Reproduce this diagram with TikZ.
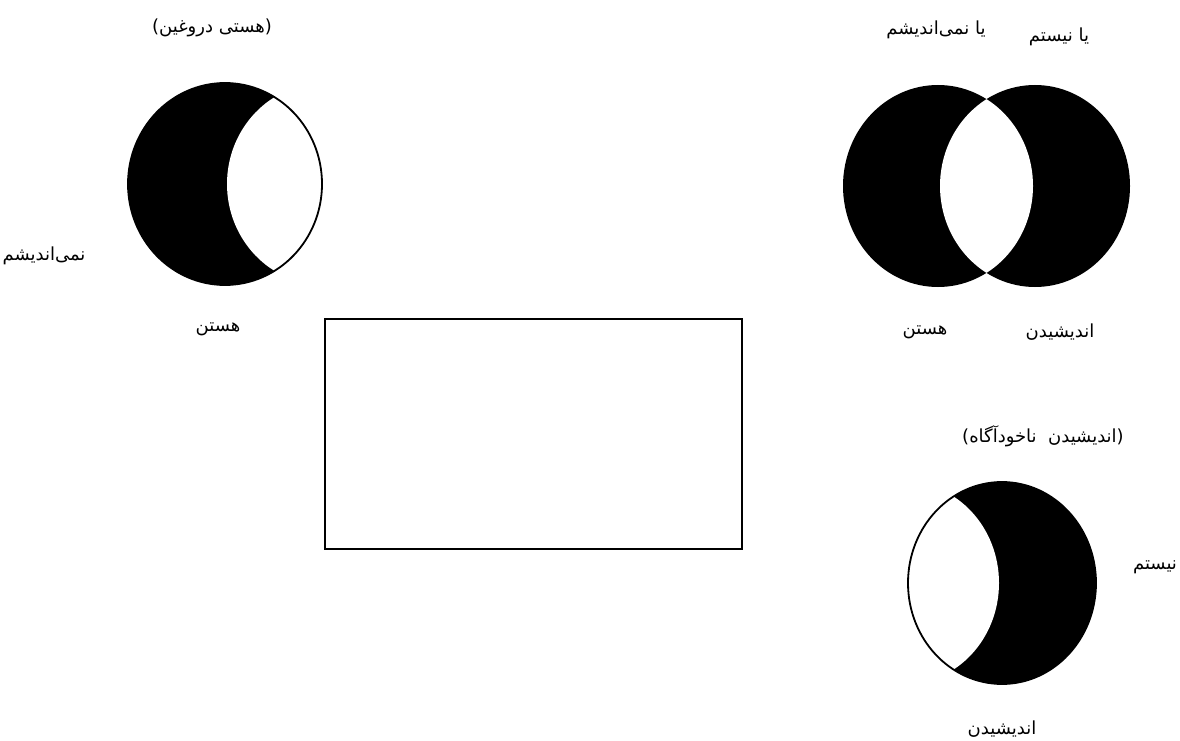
\documentclass[tikz,border=0pt]{standalone}
\usepackage{fontspec}
\newfontfamily\arabicfont[Script=Arabic]{DejaVu Sans}
\TeXXeTstate=1
\tikzset{term/.style={font=\arabicfont\fontsize{18}{21}\selectfont,inner sep=0pt},
  moon/.style={fill=black},
  rim/.style={draw=black,line width=1.8pt},
  frame/.style={draw=black,line width=1.8pt,minimum width=417pt,minimum height=230pt}}

\begin{document}
\begin{tikzpicture}[x=1pt,y=-1pt]
\useasboundingbox (0,0) rectangle (1180,741);
% left crescent, white lens on the right
\fill[moon] (225,184) ellipse [x radius=97,y radius=101];
\begin{scope}
\clip (225,184) ellipse [x radius=97,y radius=101];
\fill[white] (324,184) ellipse [x radius=97,y radius=101];
\end{scope}
\draw[rim] (225,184) ellipse [x radius=97,y radius=101];
% two circles, white overlap
\fill[moon] (938,186) ellipse [x radius=95,y radius=101];
\fill[moon] (1035,186) ellipse [x radius=95,y radius=101];
\begin{scope}
\clip (938,186) ellipse [x radius=95,y radius=101];
\fill[white] (1035,186) ellipse [x radius=95,y radius=101];
\end{scope}
% lower crescent, white lens on the left
\fill[moon] (1002,583) ellipse [x radius=94,y radius=101];
\begin{scope}
\clip (1002,583) ellipse [x radius=94,y radius=101];
\fill[white] (905,583) ellipse [x radius=94,y radius=101];
\end{scope}
\draw[rim] (1002,583) ellipse [x radius=94,y radius=101];
% empty box
\node[frame] (box) at (533.5,434) {};
% labels
\node[term] (falsebeing) at (212,28) {)\beginR هستی دروغین\endR(};
\node[term] (notthink) at (44,256) {\beginR نمی^^^^200cاندیشم\endR};
\node[term] (being) at (218,329) {\beginR هستن\endR};
\node[term] (ornotthink) at (936,30) {\beginR یا نمی^^^^200cاندیشم\endR};
\node[term] (ornotbe) at (1059,37) {\beginR یا نیستم\endR};
\node[term] (beingvenn) at (925,332) {\beginR هستن\endR};
\node[term] (thinkvenn) at (1060,332) {\beginR اندیشیدن\endR};
\node[term] (unconscious) at (1043,436) {)\beginR اندیشیدن\ \ ناخودآگاه\endR(};
\node[term] (notbe) at (1155,567) {\beginR نیستم\endR};
\node[term] (think) at (1002,729) {\beginR اندیشیدن\endR};
\end{tikzpicture}
\end{document}
